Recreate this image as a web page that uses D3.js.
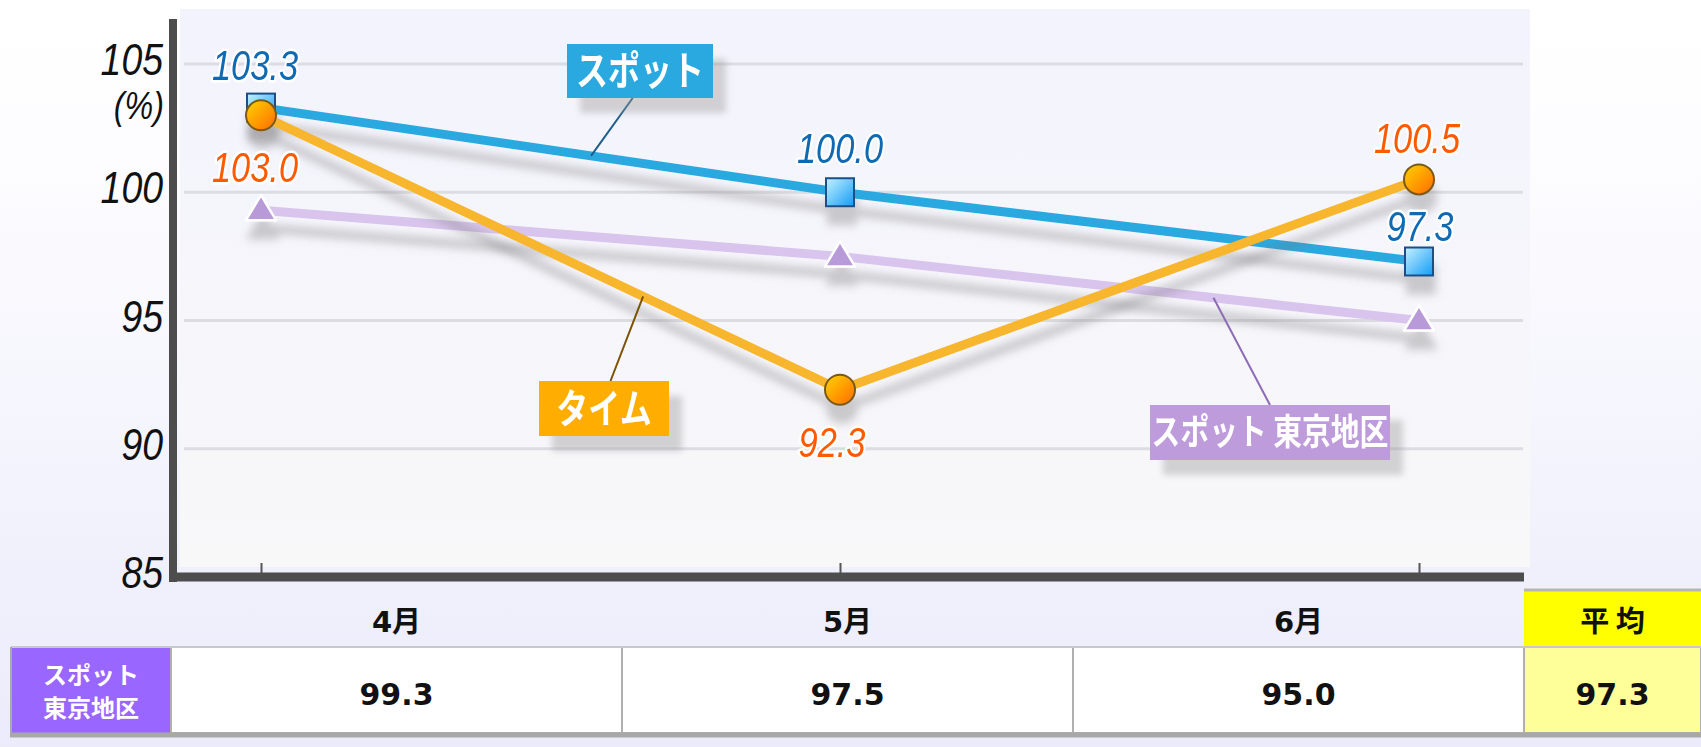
<!DOCTYPE html>
<html>
<head>
<meta charset="utf-8">
<script src="https://cdn.jsdelivr.net/npm/d3@7"></script>
<style>
html, body { margin: 0; padding: 0; background: #fff; }
svg { display: block; }
</style>
</head>
<body>
<div id="chart"></div>
<script>
// data
const months = ["4月", "5月", "6月"];
const spotValues = [103.3, 100.0, 97.3];
const timeValues = [103.0, 92.3, 100.5];
const tokyoValues = [99.3, 97.5, 95.0];
const tokyoAverage = 97.3;
const yTicks = [85, 90, 95, 100, 105];
const rowLabel = ["スポット", "東京地区"];
const averageLabel = "平 均";

const W = 1701, H = 747;

const svg = d3.select("#chart").append("svg")
    .attr("width", W)
    .attr("height", H);

const defs = svg.append("defs");

function grad(id, stops, x2, y2) {
    const g = defs.append("linearGradient").attr("id", id)
        .attr("x1", 0).attr("y1", 0).attr("x2", x2).attr("y2", y2);
    stops.forEach(s => g.append("stop").attr("offset", s[0]).attr("stop-color", s[1]));
}
grad("pageBg", [[0, "#ffffff"], [0.2, "#fdfdff"], [1, "#ebebfb"]], 0, 1);
grad("plotBg", [[0, "#f3f3fd"], [1, "#f8f8f9"]], 0, 1);
grad("sqGrad", [[0, "#c6f1ff"], [1, "#129cf6"]], 1, 1);
grad("circGrad", [[0, "#ffd400"], [1, "#ff6a00"]], 1, 1);

// soft shadow under the lines
defs.append("filter").attr("id", "lineShadow")
    .attr("filterUnits", "userSpaceOnUse")
    .attr("x", 0).attr("y", 0).attr("width", W).attr("height", H)
  .append("feDropShadow")
    .attr("dx", 2).attr("dy", 18).attr("stdDeviation", 4)
    .attr("flood-color", "#777").attr("flood-opacity", 0.35);

defs.append("filter").attr("id", "boxShadow")
    .attr("filterUnits", "userSpaceOnUse")
    .attr("x", 0).attr("y", 0).attr("width", W).attr("height", H)
  .append("feDropShadow")
    .attr("dx", 13).attr("dy", 15).attr("stdDeviation", 3)
    .attr("flood-color", "#999").attr("flood-opacity", 0.4);

svg.append("rect").attr("width", W).attr("height", H).attr("fill", "url(#pageBg)");

// scales
const x = d3.scalePoint().domain(months).range([261, 1419]);
const y = d3.scaleLinear().domain([85, 105]).range([577, 64]);
const col = d3.scaleBand().domain(months).range([171, 1524]);

// plot area
svg.append("rect")
    .attr("x", 180).attr("y", 9).attr("width", 1350).attr("height", 558)
    .attr("fill", "url(#plotBg)");

svg.append("g").selectAll("line")
    .data(yTicks.filter(d => d > 85))
    .join("line")
    .attr("x1", 184).attr("x2", 1523)
    .attr("y1", d => y(d)).attr("y2", d => y(d))
    .attr("stroke", "#dcdce3").attr("stroke-width", 3);

// x ticks (pointing up) through d3 axis
const xAxis = svg.append("g")
    .attr("transform", `translate(0,${y(85) - 4})`)
    .call(d3.axisBottom(x).tickSizeInner(-10).tickSizeOuter(0).tickFormat(""));
xAxis.select(".domain").remove();
xAxis.selectAll(".tick line").attr("stroke", "#555").attr("stroke-width", 2);

// axis lines
svg.append("line")
    .attr("x1", 173).attr("x2", 173).attr("y1", 19).attr("y2", y(85) + 5)
    .attr("stroke", "#4d4d4d").attr("stroke-width", 8);
svg.append("line")
    .attr("x1", 169).attr("x2", 1524).attr("y1", y(85)).attr("y2", y(85))
    .attr("stroke", "#4d4d4d").attr("stroke-width", 9);

// y labels
const yLab = svg.append("g").selectAll("g")
    .data(yTicks).join("g")
    .attr("transform", d => `translate(163,${y(d) + 11}) scale(0.85,1)`);
yLab.append("text")
    .attr("text-anchor", "end")
    .attr("font-family", "'Liberation Sans', Arial, sans-serif")
    .attr("font-style", "italic")
    .attr("font-size", 44)
    .attr("fill", "#111")
    .text(d => d);
svg.append("g").attr("transform", "translate(164,119) scale(0.85,1)")
  .append("text")
    .attr("text-anchor", "end")
    .attr("font-family", "'Liberation Sans', Arial, sans-serif")
    .attr("font-style", "italic")
    .attr("font-size", 38)
    .attr("fill", "#111")
    .text("(%)");

// series
const series = [
    { key: "tokyo", values: tokyoValues, color: "#d8c4ec", width: 9, marker: "triangle" },
    { key: "spot", values: spotValues, color: "#2aa9e0", width: 9, marker: "square" },
    { key: "time", values: timeValues, color: "#f8b62d", width: 9, marker: "circle" }
];

const line = d3.line().x((d, i) => x(months[i])).y(d => y(d));

series.forEach(s => {
    const g = svg.append("g").attr("class", s.key).attr("filter", "url(#lineShadow)");
    g.append("path")
        .attr("d", line(s.values))
        .attr("fill", "none")
        .attr("stroke", s.color)
        .attr("stroke-width", s.width)
        .attr("stroke-linejoin", "round");
    const m = g.selectAll("g.m").data(s.values).join("g")
        .attr("transform", (d, i) => `translate(${x(months[i])},${y(d)})`);
    if (s.marker === "square") {
        m.append("rect")
            .attr("x", -14).attr("y", -14).attr("width", 28).attr("height", 28)
            .attr("fill", "url(#sqGrad)").attr("stroke", "#1a4f88").attr("stroke-width", 2);
    } else if (s.marker === "circle") {
        m.append("circle").attr("r", 15)
            .attr("fill", "url(#circGrad)").attr("stroke", "#7a5a12").attr("stroke-width", 2);
    } else {
        m.append("path").attr("d", "M0,-15 L15,10 L-15,10 Z")
            .attr("fill", "#b99ad9").attr("stroke", "#fff").attr("stroke-width", 2.5)
            .attr("stroke-linejoin", "round");
    }
});

// callout labels
const callouts = [
    { values: spotValues, seg: 0, t: 0.57, text: "スポット", box: [567, 44, 146, 54], tip: [0.45, 1],
      fill: "#2aa9e0", lineColor: "#1b5e8c", size: 40 },
    { values: timeValues, seg: 0, t: 0.66, text: "タイム", box: [539, 381, 130, 55], tip: [0.55, 0],
      fill: "#ffae00", lineColor: "#7a5200", size: 40 },
    { values: tokyoValues, seg: 1, t: 0.645, text: "スポット 東京地区", box: [1150, 405, 240, 55], tip: [0.5, 0],
      fill: "#be9bdb", lineColor: "#8e6bb6", size: 36 }
];

callouts.forEach(c => {
    const x0 = x(months[c.seg]), x1 = x(months[c.seg + 1]);
    const y0 = y(c.values[c.seg]), y1 = y(c.values[c.seg + 1]);
    const ax = x0 + (x1 - x0) * c.t, ay = y0 + (y1 - y0) * c.t;
    const [bx, by, bw, bh] = c.box;
    svg.append("line")
        .attr("x1", ax).attr("y1", ay)
        .attr("x2", bx + bw * c.tip[0]).attr("y2", by + bh * c.tip[1])
        .attr("stroke", c.lineColor).attr("stroke-width", 2);
    svg.append("rect")
        .attr("x", bx).attr("y", by).attr("width", bw).attr("height", bh)
        .attr("fill", c.fill).attr("filter", "url(#boxShadow)");
    svg.append("g")
        .attr("transform", `translate(${bx + bw / 2},${by + bh / 2 + c.size * 0.36}) scale(0.8,1)`)
      .append("text")
        .attr("text-anchor", "middle")
        .attr("font-family", "'Noto Sans CJK JP', sans-serif")
        .attr("font-weight", "bold")
        .attr("font-size", c.size)
        .attr("fill", "#fff")
        .text(c.text);
});

// value labels
const valueLabels = [
    { values: spotValues, color: "#0f6ab4", offs: [[-6, -28], [0, -29], [1, -21]] },
    { values: timeValues, color: "#ff5a00", offs: [[-6, 67], [-8, 67], [-2, -26]] }
];
valueLabels.forEach(v => {
    svg.append("g").selectAll("g").data(v.values).join("g")
        .attr("transform", (d, i) => `translate(${x(months[i]) + v.offs[i][0]},${y(d) + v.offs[i][1]}) scale(0.82,1)`)
      .append("text")
        .attr("text-anchor", "middle")
        .attr("font-family", "'Liberation Sans', Arial, sans-serif")
        .attr("font-style", "italic")
        .attr("font-size", 42)
        .attr("fill", v.color)
        .attr("stroke", "#fff")
        .attr("stroke-width", 5)
        .attr("stroke-linejoin", "round")
        .attr("paint-order", "stroke")
        .text(d => d3.format(".1f")(d));
});

// table
const hdrTop = 591, hdrBot = 646, rowTop = 647, rowBot = 733;
const tbl = svg.append("g");
const boldFont = "'DejaVu Sans', 'Noto Sans CJK JP', sans-serif";

// average header
tbl.append("rect").attr("x", 1524).attr("y", hdrTop).attr("width", W - 1524).attr("height", hdrBot - hdrTop)
    .attr("fill", "#ffff00");
tbl.append("line").attr("x1", 1524).attr("x2", W).attr("y1", hdrTop - 1).attr("y2", hdrTop - 1)
    .attr("stroke", "#b5b5b5").attr("stroke-width", 3);

tbl.selectAll("text.hdr").data(months).join("text")
    .attr("class", "hdr")
    .attr("x", d => col(d) + col.bandwidth() / 2)
    .attr("y", 632)
    .attr("text-anchor", "middle")
    .attr("font-family", boldFont).attr("font-weight", "bold").attr("font-size", 29)
    .attr("fill", "#111")
    .text(d => d);
tbl.append("text")
    .attr("x", (1524 + W) / 2).attr("y", 632)
    .attr("text-anchor", "middle")
    .attr("font-family", "'Noto Sans CJK JP', sans-serif").attr("font-weight", "bold").attr("font-size", 29)
    .attr("fill", "#111")
    .text(averageLabel);

// data row
tbl.append("rect").attr("x", 11).attr("y", rowTop).attr("width", 160).attr("height", rowBot - rowTop)
    .attr("fill", "#9966ff");
tbl.selectAll("rect.cell").data(months).join("rect")
    .attr("class", "cell")
    .attr("x", d => col(d)).attr("y", rowTop)
    .attr("width", col.bandwidth()).attr("height", rowBot - rowTop)
    .attr("fill", "#fff").attr("stroke", "#b0b0b0").attr("stroke-width", 2);
tbl.append("rect").attr("x", 1524).attr("y", rowTop).attr("width", W - 1524).attr("height", rowBot - rowTop)
    .attr("fill", "#ffff99").attr("stroke", "#b0b0b0").attr("stroke-width", 2);
tbl.append("line").attr("x1", 11).attr("x2", W).attr("y1", rowTop).attr("y2", rowTop)
    .attr("stroke", "#c8c8c8").attr("stroke-width", 2);
tbl.append("line").attr("x1", 11).attr("x2", 11).attr("y1", rowTop).attr("y2", rowBot + 4)
    .attr("stroke", "#aaa").attr("stroke-width", 2);
tbl.append("line").attr("x1", 10).attr("x2", W).attr("y1", rowBot + 2).attr("y2", rowBot + 2)
    .attr("stroke", "#a8a8a8").attr("stroke-width", 5);

tbl.selectAll("text.rl").data(rowLabel).join("text")
    .attr("class", "rl")
    .attr("x", 91).attr("y", (d, i) => 684 + i * 33)
    .attr("text-anchor", "middle")
    .attr("font-family", "'Noto Sans CJK JP', sans-serif").attr("font-weight", "bold").attr("font-size", 24)
    .attr("fill", "#fff")
    .text(d => d);

tbl.selectAll("text.val").data(tokyoValues).join("text")
    .attr("class", "val")
    .attr("x", (d, i) => col(months[i]) + col.bandwidth() / 2)
    .attr("y", 705)
    .attr("text-anchor", "middle")
    .attr("font-family", boldFont).attr("font-weight", "bold").attr("font-size", 30)
    .attr("fill", "#111")
    .text(d => d3.format(".1f")(d));
tbl.append("text")
    .attr("x", (1524 + W) / 2).attr("y", 705)
    .attr("text-anchor", "middle")
    .attr("font-family", boldFont).attr("font-weight", "bold").attr("font-size", 30)
    .attr("fill", "#111")
    .text(d3.format(".1f")(tokyoAverage));
</script>
</body>
</html>
